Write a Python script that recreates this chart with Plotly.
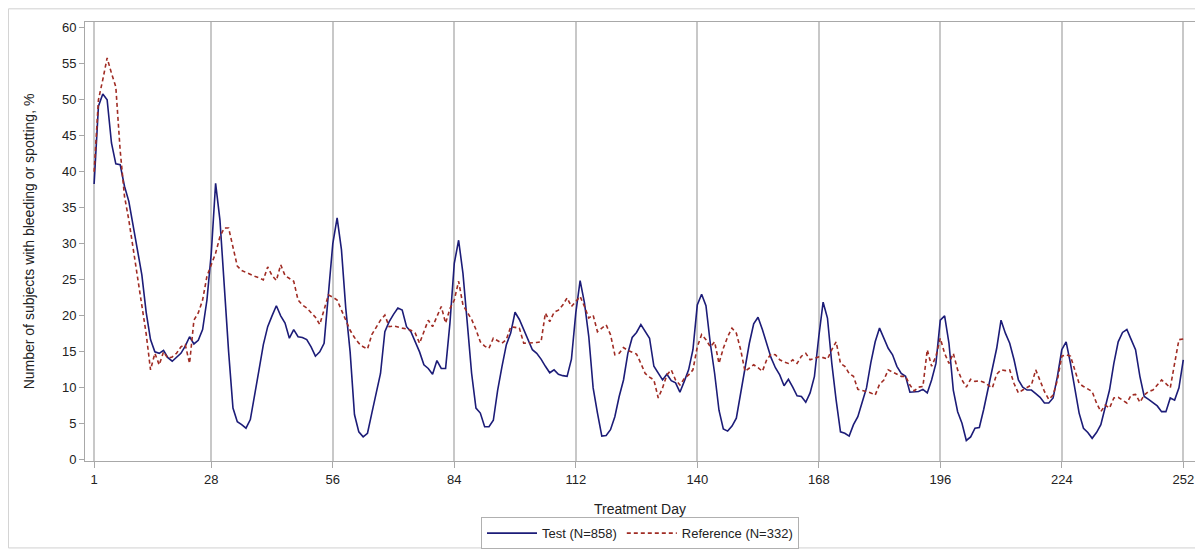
import plotly.graph_objects as go

# Test (N=858): day -> % of subjects with bleeding or spotting
test_days = list(range(1, 253))
test_vals = [
    38.3, 49.1, 50.8, 50.0, 44.0, 41.1, 41.0, 38.0, 35.9, 32.5,
    29.0, 25.7, 20.5, 16.7, 15.0, 14.8, 15.2, 14.2, 13.7, 14.3,
    14.8, 15.8, 17.1, 16.1, 16.6, 18.1, 22.2, 28.7, 38.4, 33.3,
    24.0, 15.0, 7.2, 5.3, 4.9, 4.4, 5.6, 8.8, 12.5, 16.0,
    18.5, 20.0, 21.4, 20.0, 19.0, 16.9, 18.1, 17.1, 17.0, 16.7,
    15.7, 14.4, 15.0, 16.2, 23.6, 30.0, 33.6, 29.2, 21.0, 15.0,
    6.3, 3.9, 3.2, 3.7, 6.5, 9.5, 12.0, 17.8, 19.2, 20.2,
    21.1, 20.8, 18.5, 17.8, 16.5, 15.0, 13.2, 12.7, 11.9, 13.8,
    12.7, 12.7, 19.0, 27.3, 30.5, 25.9, 19.0, 12.0, 7.2, 6.5,
    4.6, 4.6, 5.5, 9.7, 13.0, 16.0, 17.6, 20.5, 19.5, 18.1,
    16.5, 15.3, 14.8, 14.0, 13.0, 12.1, 12.5, 11.9, 11.7, 11.6,
    14.0, 20.4, 24.9, 21.8, 17.1, 10.0, 6.5, 3.3, 3.4, 4.2,
    6.0, 8.8, 11.1, 14.8, 17.0, 17.7, 18.8, 17.8, 16.9, 13.0,
    12.1, 11.1, 11.9, 11.0, 10.7, 9.4, 10.9, 12.5, 15.3, 21.5,
    23.0, 21.4, 16.2, 12.0, 6.9, 4.3, 4.0, 4.7, 5.8, 9.3,
    13.0, 16.2, 18.9, 19.8, 18.1, 16.0, 14.2, 12.8, 11.8, 10.3,
    11.2, 10.1, 8.9, 8.8, 8.0, 9.3, 11.6, 17.1, 21.9, 19.7,
    13.4, 8.3, 3.9, 3.7, 3.3, 4.9, 6.0, 8.0, 10.0, 13.5,
    16.4, 18.3, 16.9, 15.5, 14.6, 13.0, 12.0, 11.6, 9.4, 9.4,
    9.5, 9.8, 9.3, 11.1, 13.4, 19.4, 20.0, 16.2, 9.7, 6.7,
    5.1, 2.7, 3.2, 4.4, 4.5, 7.0, 10.0, 12.5, 15.5, 19.4,
    17.6, 16.2, 13.9, 11.1, 10.1, 9.7, 9.7, 9.2, 8.7, 7.9,
    7.9, 8.6, 11.6, 15.3, 16.4, 13.4, 9.7, 6.5, 4.4, 3.8,
    3.0, 3.8, 4.9, 7.4, 9.7, 13.4, 16.4, 17.7, 18.1, 16.7,
    15.3, 11.6, 8.8, 8.4, 8.0, 7.5, 6.7, 6.7, 8.6, 8.3,
    10.0, 13.9,
]

# Reference (N=332)
ref_days = list(range(1, 253))
ref_vals = [
    40.0, 50.0, 52.8, 55.8, 53.7, 51.8, 43.0, 36.6, 33.3, 29.5,
    25.5, 21.5, 17.5, 12.5, 14.8, 13.2, 15.0, 14.1, 14.3, 14.8,
    15.7, 16.0, 13.4, 19.4, 20.4, 22.2, 25.5, 27.1, 28.7, 31.0,
    32.2, 32.2, 29.6, 26.9, 26.3, 26.0, 25.8, 25.5, 25.3, 25.0,
    26.8, 25.6, 24.9, 27.1, 25.6, 25.2, 24.8, 22.2, 21.5, 21.1,
    20.5, 19.8, 18.8, 21.0, 22.9, 22.6, 22.2, 20.8, 19.5, 18.0,
    17.0, 16.2, 15.7, 15.4, 17.4, 18.5, 19.4, 20.1, 18.5, 18.6,
    18.4, 18.3, 18.2, 18.0, 17.6, 16.2, 17.8, 19.4, 18.5, 20.0,
    21.3, 19.0, 21.0, 22.2, 24.8, 21.5, 20.5, 19.5, 18.1, 16.4,
    15.8, 15.5, 16.9, 16.5, 16.2, 16.7, 18.5, 18.4, 18.3, 16.2,
    16.2, 16.2, 16.3, 16.4, 20.4, 19.2, 20.5, 20.8, 21.5, 22.5,
    21.3, 22.0, 22.7, 21.3, 19.7, 20.1, 17.8, 18.3, 18.75, 17.4,
    14.6, 14.8, 15.6, 15.2, 14.9, 14.7, 13.4, 12.0, 11.5, 11.1,
    8.6, 10.0, 11.8, 12.5, 11.1, 10.4, 11.3, 11.8, 12.5, 15.7,
    17.4, 16.7, 15.7, 16.4, 13.4, 15.5, 17.1, 18.3, 17.6, 15.3,
    12.3, 12.8, 13.2, 12.8, 12.3, 13.9, 14.7, 14.6, 13.9, 13.6,
    13.4, 13.9, 13.4, 14.4, 14.8, 13.9, 14.1, 14.3, 14.2, 14.0,
    15.3, 16.4, 13.4, 13.0, 12.0, 11.6, 9.8, 9.7, 9.5, 9.3,
    9.0, 10.5, 11.1, 12.5, 12.2, 12.0, 11.6, 11.6, 10.4, 9.6,
    10.1, 10.2, 15.3, 13.0, 14.4, 16.9, 14.8, 13.4, 14.8, 12.5,
    11.1, 10.1, 11.2, 10.9, 11.0, 10.8, 10.4, 10.0, 11.9, 12.5,
    12.4, 12.5, 10.6, 9.3, 9.7, 10.0, 10.4, 12.5, 11.1, 9.5,
    8.4, 9.0, 11.1, 14.4, 14.6, 14.4, 12.5, 10.6, 10.2, 9.8,
    9.5, 7.9, 6.7, 7.6, 7.2, 8.6, 8.7, 8.3, 7.9, 9.0,
    9.1, 8.0, 9.0, 9.5, 9.7, 10.4, 11.1, 10.6, 10.0, 13.4,
    16.7, 16.8,
]

x_ticks = [1, 28, 56, 84, 112, 140, 168, 196, 224, 252]
y_ticks = list(range(0, 61, 5))

FONT = "Liberation Sans, Arial, sans-serif"
GRID = "#c8c8c8"
FRAME = "#a8a8a8"

fig = go.Figure()
fig.add_trace(go.Scatter(
    x=test_days, y=test_vals, mode="lines", name="Test (N=858)",
    line=dict(color="#1c1c78", width=1.6),
))
fig.add_trace(go.Scatter(
    x=ref_days, y=ref_vals, mode="lines", name="Reference (N=332)",
    line=dict(color="#a02c24", width=1.6, dash="4px,3px"),
))

# page body has an 8px default margin, so the figure is drawn from (8, 8)
fig.update_layout(
    width=1195, height=544,
    margin=dict(l=77, r=8, t=14, b=91),
    paper_bgcolor="white", plot_bgcolor="white",
    font=dict(family=FONT, size=13, color="#222222"),
    showlegend=True,
    legend=dict(
        orientation="h", x=0.5, xanchor="center",
        yref="container", y=0.064, yanchor="top",
        bordercolor="#b0b0b0", borderwidth=1, font=dict(size=13),
        itemwidth=50, tracegroupgap=0,
    ),
    xaxis=dict(
        range=[-1.1, 254.7], tickmode="array", tickvals=x_ticks,
        ticktext=[str(t) for t in x_ticks],
        showgrid=True, gridcolor=GRID, gridwidth=1.5,
        showline=True, linecolor=FRAME, linewidth=1, mirror=True,
        ticks="outside", ticklen=6, tickcolor=FRAME,
        zeroline=False, automargin=False,
        title=dict(text="Treatment Day", font=dict(size=14), standoff=23),
        tickfont=dict(size=13),
    ),
    yaxis=dict(
        range=[-0.15, 60.8], tickmode="array", tickvals=y_ticks,
        showgrid=False,
        showline=True, linecolor=FRAME, linewidth=1, mirror=True,
        ticks="outside", ticklen=5, tickcolor=FRAME,
        zeroline=False, automargin=False,
        title=dict(text="Number of subjects with bleeding or spotting, %",
                   font=dict(size=14), standoff=24),
        tickfont=dict(size=13),
    ),
    shapes=[
        dict(type="rect", xref="paper", yref="paper",
             x0=-0.069, x1=1.0045, y0=-0.198, y1=1.03,
             line=dict(color="#d0d0d0", width=1), fillcolor="rgba(0,0,0,0)",
             layer="below"),
    ],
)

fig.write_html("out.html")
